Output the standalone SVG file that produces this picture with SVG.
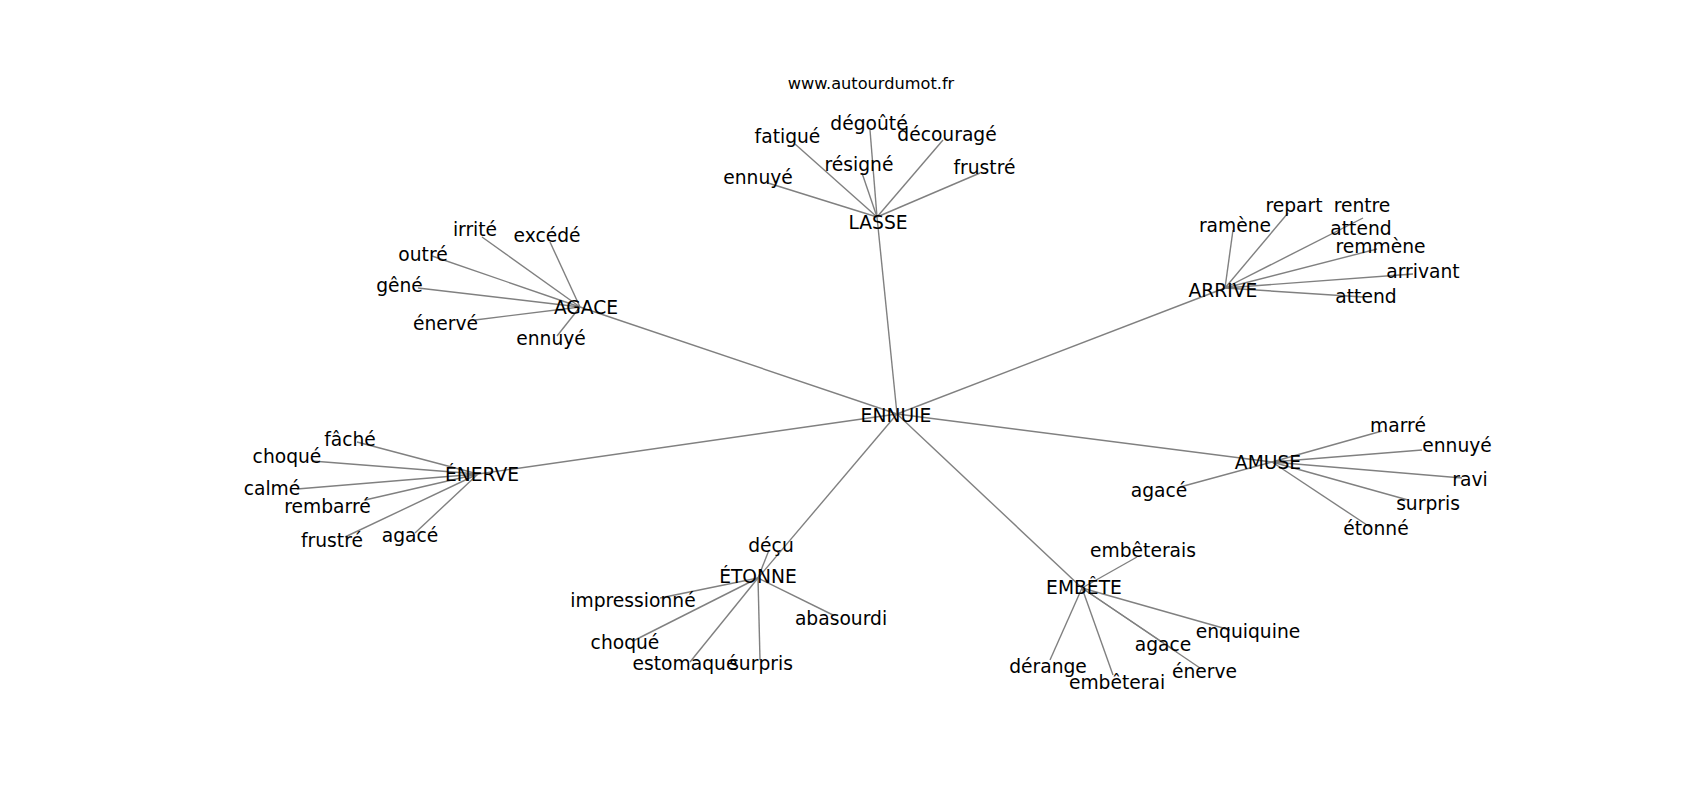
<svg xmlns="http://www.w3.org/2000/svg" width="1700" height="800" viewBox="0 0 1700 800">
<style>
.e{stroke:#808080;stroke-width:1.4;fill:none}
text{font-family:"DejaVu Sans","Liberation Sans",sans-serif;font-size:18.7px;fill:#000;text-anchor:middle}
.t{font-size:16.2px}
</style>
<rect width="1700" height="800" fill="#fff"/>
<g id="connectors">
<line class="e" x1="897" y1="414" x2="877" y2="217"/>
<line class="e" x1="897" y1="414" x2="1225" y2="288"/>
<line class="e" x1="897" y1="414" x2="580" y2="307"/>
<line class="e" x1="897" y1="414" x2="478" y2="474"/>
<line class="e" x1="897" y1="414" x2="758" y2="578"/>
<line class="e" x1="897" y1="414" x2="1082" y2="588"/>
<line class="e" x1="897" y1="414" x2="1272" y2="462"/>
<line class="e" x1="877" y1="217" x2="795" y2="144"/>
<line class="e" x1="877" y1="217" x2="870" y2="130"/>
<line class="e" x1="877" y1="217" x2="943" y2="140"/>
<line class="e" x1="877" y1="217" x2="862" y2="173"/>
<line class="e" x1="877" y1="217" x2="768" y2="183"/>
<line class="e" x1="877" y1="217" x2="980" y2="173"/>
<line class="e" x1="1225" y1="288" x2="1233" y2="230"/>
<line class="e" x1="1225" y1="288" x2="1288" y2="213"/>
<line class="e" x1="1225" y1="288" x2="1363" y2="218"/>
<line class="e" x1="1225" y1="288" x2="1377" y2="249"/>
<line class="e" x1="1225" y1="288" x2="1413" y2="274"/>
<line class="e" x1="1225" y1="288" x2="1363" y2="297"/>
<line class="e" x1="580" y1="307" x2="482" y2="237"/>
<line class="e" x1="580" y1="307" x2="550" y2="242"/>
<line class="e" x1="580" y1="307" x2="432" y2="256"/>
<line class="e" x1="580" y1="307" x2="418" y2="288"/>
<line class="e" x1="580" y1="307" x2="475" y2="320"/>
<line class="e" x1="580" y1="307" x2="557" y2="336"/>
<line class="e" x1="478" y1="474" x2="357" y2="442"/>
<line class="e" x1="478" y1="474" x2="312" y2="461"/>
<line class="e" x1="478" y1="474" x2="297" y2="489"/>
<line class="e" x1="478" y1="474" x2="365" y2="500"/>
<line class="e" x1="478" y1="474" x2="345" y2="537"/>
<line class="e" x1="478" y1="474" x2="415" y2="533"/>
<line class="e" x1="758" y1="578" x2="769" y2="550"/>
<line class="e" x1="758" y1="578" x2="660" y2="598"/>
<line class="e" x1="758" y1="578" x2="833" y2="615"/>
<line class="e" x1="758" y1="578" x2="633" y2="641"/>
<line class="e" x1="758" y1="578" x2="690" y2="662"/>
<line class="e" x1="758" y1="578" x2="760" y2="660"/>
<line class="e" x1="1082" y1="588" x2="1137" y2="557"/>
<line class="e" x1="1082" y1="588" x2="1230" y2="630"/>
<line class="e" x1="1082" y1="588" x2="1177" y2="652"/>
<line class="e" x1="1082" y1="588" x2="1200" y2="668"/>
<line class="e" x1="1082" y1="588" x2="1050" y2="660"/>
<line class="e" x1="1082" y1="588" x2="1113" y2="675"/>
<line class="e" x1="1272" y1="462" x2="1382" y2="431"/>
<line class="e" x1="1272" y1="462" x2="1422" y2="450"/>
<line class="e" x1="1272" y1="462" x2="1462" y2="478"/>
<line class="e" x1="1272" y1="462" x2="1408" y2="500"/>
<line class="e" x1="1272" y1="462" x2="1370" y2="527"/>
<line class="e" x1="1272" y1="462" x2="1180" y2="487"/>
</g>
<g id="title"><text class="t" x="871" y="89">www.autourdumot.fr</text></g>
<g id="n-ennuie"><text x="896" y="422">ENNUIE</text></g>
<g id="n-lasse"><text x="878" y="229">LASSE</text></g>
<g id="n-lasse-fatigue"><text x="787.5" y="143">fatigué</text></g>
<g id="n-lasse-degoute"><text x="869" y="130">dégoûté</text></g>
<g id="n-lasse-decourage"><text x="947" y="141">découragé</text></g>
<g id="n-lasse-resigne"><text x="859" y="171">résigné</text></g>
<g id="n-lasse-ennuye"><text x="758" y="184">ennuyé</text></g>
<g id="n-lasse-frustre"><text x="984.5" y="174">frustré</text></g>
<g id="n-arrive"><text x="1223" y="297">ARRIVE</text></g>
<g id="n-arrive-ramene"><text x="1235" y="232">ramène</text></g>
<g id="n-arrive-repart"><text x="1294" y="212">repart</text></g>
<g id="n-arrive-rentre"><text x="1362" y="212">rentre</text><text x="1361" y="235">attend</text></g>
<g id="n-arrive-remmene"><text x="1380.5" y="253">remmène</text></g>
<g id="n-arrive-arrivant"><text x="1423" y="278">arrivant</text></g>
<g id="n-arrive-attend"><text x="1366" y="303">attend</text></g>
<g id="n-agace"><text x="586" y="314">AGACE</text></g>
<g id="n-agace-irrite"><text x="475" y="236">irrité</text></g>
<g id="n-agace-excede"><text x="547" y="242">excédé</text></g>
<g id="n-agace-outre"><text x="423" y="261">outré</text></g>
<g id="n-agace-gene"><text x="399.5" y="292">gêné</text></g>
<g id="n-agace-enerve"><text x="445.5" y="330">énervé</text></g>
<g id="n-agace-ennuye"><text x="551" y="345">ennuyé</text></g>
<g id="n-enerve"><text x="482" y="481">ÉNERVE</text></g>
<g id="n-enerve-fache"><text x="350" y="446">fâché</text></g>
<g id="n-enerve-choque"><text x="287" y="463">choqué</text></g>
<g id="n-enerve-calme"><text x="272" y="495">calmé</text></g>
<g id="n-enerve-rembarre"><text x="327.5" y="513">rembarré</text></g>
<g id="n-enerve-frustre"><text x="332" y="547">frustré</text></g>
<g id="n-enerve-agace"><text x="410" y="542">agacé</text></g>
<g id="n-etonne"><text x="758" y="583">ÉTONNE</text></g>
<g id="n-etonne-decu"><text x="771" y="552">déçu</text></g>
<g id="n-etonne-impressionne"><text x="633" y="607">impressionné</text></g>
<g id="n-etonne-abasourdi"><text x="841" y="625">abasourdi</text></g>
<g id="n-etonne-choque"><text x="625" y="649">choqué</text></g>
<g id="n-etonne-estomaque"><text x="685" y="670">estomaqué</text></g>
<g id="n-etonne-surpris"><text x="761" y="670">surpris</text></g>
<g id="n-embete"><text x="1084" y="594">EMBÊTE</text></g>
<g id="n-embete-embeterais"><text x="1143" y="557">embêterais</text></g>
<g id="n-embete-enquiquine"><text x="1248" y="638">enquiquine</text></g>
<g id="n-embete-agace"><text x="1163" y="651">agace</text></g>
<g id="n-embete-enerve"><text x="1204.5" y="678">énerve</text></g>
<g id="n-embete-derange"><text x="1048" y="673">dérange</text></g>
<g id="n-embete-embeterai"><text x="1117" y="689">embêterai</text></g>
<g id="n-amuse"><text x="1268" y="469">AMUSE</text></g>
<g id="n-amuse-marre"><text x="1398" y="432">marré</text></g>
<g id="n-amuse-ennuye"><text x="1457" y="452">ennuyé</text></g>
<g id="n-amuse-ravi"><text x="1470" y="486">ravi</text></g>
<g id="n-amuse-surpris"><text x="1428" y="510">surpris</text></g>
<g id="n-amuse-etonne"><text x="1376" y="535">étonné</text></g>
<g id="n-amuse-agace"><text x="1159" y="497">agacé</text></g>
</svg>
